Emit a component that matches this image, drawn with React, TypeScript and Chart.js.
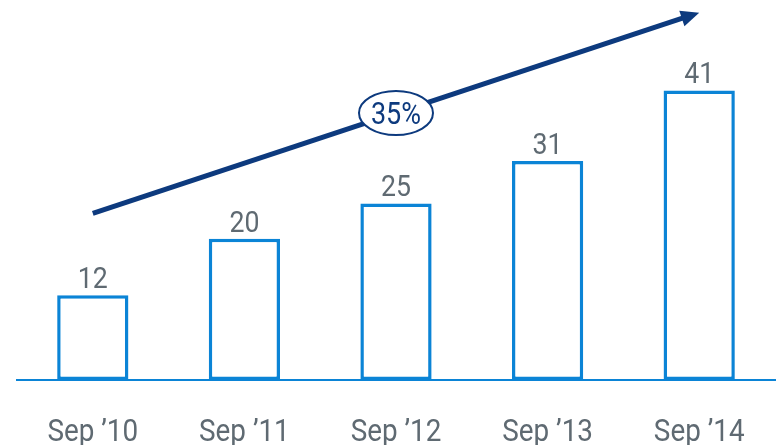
import React, { useEffect, useRef } from "react";
import { Chart, registerables } from "chart.js";
Chart.register(...registerables);

const categories = ["Sep ’10", "Sep ’11", "Sep ’12", "Sep ’13", "Sep ’14"];
const values = [12, 20, 25, 31, 41];
const growthLabel = "35%";
const arrowStart = 23.6; // value-axis position of the arrow's tail
const arrowEnd = 52; // value-axis position of the arrow's head

const BLUE = "#0b84d6";
const NAVY = "#0d3a7e";
const GRAY = "#5f6a72";
const FONT = "Roboto, 'Noto Sans', sans-serif";

function condensedText(ctx: CanvasRenderingContext2D, text: string, x: number, y: number, sx: number) {
  ctx.save();
  ctx.translate(x, y);
  ctx.scale(sx, 1);
  ctx.fillText(text, 0, 0);
  ctx.restore();
}

export default function App() {
  const ref = useRef<HTMLCanvasElement>(null);
  useEffect(() => {
    document.body.style.margin = "0";
    const overlay = {
      id: "overlay",
      afterDatasetsDraw(chart: any) {
        const ctx = chart.ctx;
        const meta = chart.getDatasetMeta(0);
        const xs = chart.scales.x;
        const ys = chart.scales.y;
        ctx.save();
        ctx.textAlign = "center";
        ctx.textBaseline = "alphabetic";
        ctx.fillStyle = GRAY;
        // value labels
        ctx.font = `29px ${FONT}`;
        meta.data.forEach((bar: any, i: number) => {
          condensedText(ctx, String(values[i]), bar.x, bar.y - 7, 0.92);
        });
        // category labels
        ctx.font = `32px ${FONT}`;
        categories.forEach((c, i) => {
          condensedText(ctx, c, xs.getPixelForValue(i), 441, 0.87);
        });
        // growth arrow
        const x1 = xs.getPixelForValue(0);
        const y1 = ys.getPixelForValue(arrowStart);
        const x2 = xs.getPixelForValue(categories.length - 1);
        const y2 = ys.getPixelForValue(arrowEnd);
        const ang = Math.atan2(y2 - y1, x2 - x1);
        const headLen = 20;
        ctx.strokeStyle = NAVY;
        ctx.fillStyle = NAVY;
        ctx.lineWidth = 5;
        ctx.beginPath();
        ctx.moveTo(x1, y1);
        ctx.lineTo(x2 - Math.cos(ang) * headLen * 0.8, y2 - Math.sin(ang) * headLen * 0.8);
        ctx.stroke();
        ctx.beginPath();
        ctx.moveTo(x2, y2);
        ctx.lineTo(x2 - headLen * Math.cos(ang - 0.42), y2 - headLen * Math.sin(ang - 0.42));
        ctx.lineTo(x2 - headLen * Math.cos(ang + 0.42), y2 - headLen * Math.sin(ang + 0.42));
        ctx.closePath();
        ctx.fill();
        const mx = (x1 + x2) / 2;
        const my = (y1 + y2) / 2;
        ctx.beginPath();
        ctx.ellipse(mx, my, 37, 22, 0, 0, Math.PI * 2);
        ctx.fillStyle = "#ffffff";
        ctx.fill();
        ctx.lineWidth = 2;
        ctx.strokeStyle = NAVY;
        ctx.stroke();
        ctx.fillStyle = NAVY;
        ctx.font = `31px ${FONT}`;
        condensedText(ctx, growthLabel, mx, my + 11, 0.87);
        ctx.restore();
      },
    };
    const chart = new Chart(ref.current!, {
      type: "bar",
      data: {
        labels: categories,
        datasets: [
          {
            data: values,
            backgroundColor: "#ffffff",
            borderColor: BLUE,
            borderWidth: 3.5,
            borderSkipped: false,
            barPercentage: 0.47,
            categoryPercentage: 1,
          },
        ],
      },
      options: {
        animation: false,
        responsive: false,
        layout: { padding: { left: 17, right: 5, top: 0, bottom: 0 } },
        plugins: { legend: { display: false }, tooltip: { enabled: false } },
        scales: {
          x: {
            grid: { display: false, drawTicks: false },
            border: { display: true, color: BLUE, width: 2 },
            ticks: { display: false },
            afterFit: (s: any) => {
              s.height = 65;
            },
          },
          y: { display: false, min: 0, max: 53.8 },
        },
      },
      plugins: [overlay],
    });
    return () => chart.destroy();
  }, []);
  return <canvas ref={ref} width={780} height={445} style={{ display: "block" }} />;
}
